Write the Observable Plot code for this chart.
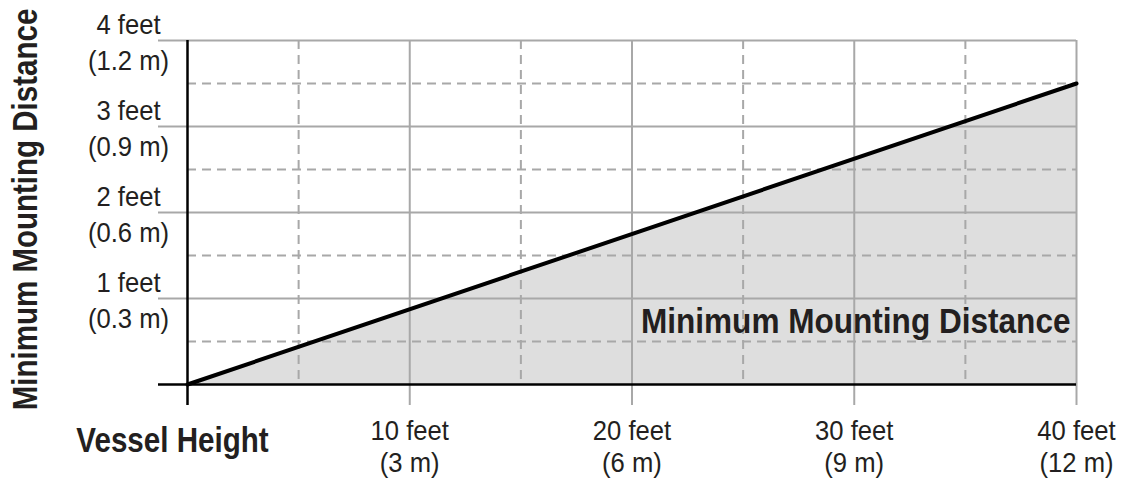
<!DOCTYPE html>
<html>
<head>
<meta charset="utf-8">
<script src="https://cdn.jsdelivr.net/npm/d3@7"></script>
<script src="https://cdn.jsdelivr.net/npm/@observablehq/plot@0.6"></script>
<style>
  html, body { margin: 0; padding: 0; background: #fff; }
  svg { display: block; }
</style>
</head>
<body>
<div id="chart"></div>
<script>
// Data: vessel height (feet) vs minimum mounting distance (feet)
const vesselHeightFeet = [0, 40];
const mountingDistanceFeet = [0, 3.5];

// Tick labels
const xTicks = [10, 20, 30, 40];
const xTickLabels = ["10 feet\n(3 m)", "20 feet\n(6 m)", "30 feet\n(9 m)", "40 feet\n(12 m)"];
const yTicks = [1, 2, 3, 4];
const yTickLabels = ["1 feet\n(0.3 m)", "2 feet\n(0.6 m)", "3 feet\n(0.9 m)", "4 feet\n(1.2 m)"];
const xMinor = [5, 15, 25, 35];
const yMinor = [0.5, 1.5, 2.5, 3.5];

const xTitle = "Vessel Height";
const yTitle = "Minimum Mounting Distance";
const areaLabel = "Minimum Mounting Distance";

const data = vesselHeightFeet.map((x, i) => ({x, y: mountingDistanceFeet[i]}));

const FONT = '"Liberation Sans", Arial, Helvetica, sans-serif';
const GRID = "#a8a8a8";
const INK = "#231f20";

const chart = Plot.plot({
  width: 1121,
  height: 483,
  marginLeft: 187,
  marginRight: 45,
  marginTop: 40,
  marginBottom: 99,
  style: {fontFamily: FONT, background: "#fff", color: INK},
  x: {domain: [0, 40], axis: null},
  y: {domain: [0, 4], axis: null},
  marks: [
    Plot.areaY(data, {x: "x", y: "y", fill: "#dedede"}),
    // dashed minor grid
    Plot.gridX(xMinor, {stroke: GRID, strokeOpacity: 1, strokeWidth: 2, strokeDasharray: "9,6"}),
    Plot.gridY(yMinor, {stroke: GRID, strokeOpacity: 1, strokeWidth: 2, strokeDasharray: "9,6"}),
    // solid major grid
    Plot.gridX(xTicks, {stroke: GRID, strokeOpacity: 1, strokeWidth: 2}),
    Plot.gridY(yTicks, {stroke: GRID, strokeOpacity: 1, strokeWidth: 2}),
    // axes with labels
    Plot.axisX({
      ticks: xTicks,
      tickSize: 21,
      tickPadding: 11,
      stroke: GRID,
      strokeWidth: 2,
      tickFormat: (d) => xTickLabels[xTicks.indexOf(d)],
      fontSize: 27,
      lineHeight: 1.2,
      fill: INK,
      label: null
    }),
    Plot.axisY({
      ticks: yTicks,
      tickSize: 29,
      tickPadding: 30,
      stroke: GRID,
      strokeWidth: 2,
      textAnchor: "middle",
      tickFormat: (d) => yTickLabels[yTicks.indexOf(d)],
      fontSize: 27,
      lineHeight: 1.34,
      fill: INK,
      label: null
    }),
    // black baseline/axis ticks at zero
    Plot.axisX({ticks: [0], tickSize: 21, stroke: "#000", strokeWidth: 2.5, tickFormat: () => "", label: null}),
    Plot.axisY({ticks: [0], tickSize: 29, stroke: "#000", strokeWidth: 2.5, tickFormat: () => "", label: null}),
    Plot.ruleX([0], {stroke: "#000", strokeWidth: 2.5}),
    Plot.ruleY([0], {stroke: "#000", strokeWidth: 2.5}),
    // the line
    Plot.line(data, {x: "x", y: "y", stroke: "#000", strokeWidth: 4}),
    // area label
    Plot.text([areaLabel], {
      frameAnchor: "bottom-right", lineAnchor: "middle", dx: -6, dy: -63,
      text: (d) => d, textAnchor: "end", fontSize: 36, fontWeight: "bold", fill: INK
    }),
    // axis titles
    Plot.text([xTitle], {
      frameAnchor: "bottom-left", lineAnchor: "middle", dx: -15, dy: 56,
      text: (d) => d, textAnchor: "middle", fontSize: 35, fontWeight: "bold", fill: INK
    }),
    Plot.text([yTitle], {
      frameAnchor: "left", lineAnchor: "middle", dx: -162, dy: -3, rotate: -90,
      text: (d) => d, textAnchor: "middle", fontSize: 36, fontWeight: "bold", fill: INK
    })
  ]
});

// Condensed look: narrow the glyphs horizontally (Helvetica Condensed style)
d3.select(chart).selectAll("text").each(function () {
  const el = d3.select(this);
  const tr = el.attr("transform") || "";
  const txt = this.textContent;
  let s = 0.95;
  if (txt === xTitle) s = 0.845;
  else if (txt === yTitle && tr.includes("rotate")) s = 0.82;
  else if (txt === areaLabel) s = 0.877;
  el.attr("transform", `${tr} scale(${s},1)`);
});

document.getElementById("chart").appendChild(chart);
</script>
</body>
</html>
